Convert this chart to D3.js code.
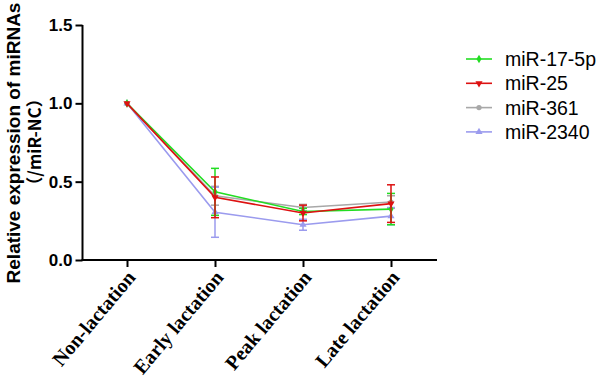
<!DOCTYPE html>
<html><head><meta charset="utf-8">
<script src="https://cdn.jsdelivr.net/npm/d3@7"></script>
<style>body{margin:0;background:#fff}svg{display:block}</style>
</head><body>
<svg id="c" width="596" height="385"></svg>
<script>
const categories = ["Non-lactation","Early lactation","Peak lactation","Late lactation"];
const seriesNames = ["miR-17-5p","miR-25","miR-361","miR-2340"];
const seriesColors = ["#22dd22","#dd1111","#a8a8a8","#9b9bee"];
const seriesSymbols = ["diamond","triangleDown","circle","triangle"];
const mir175p = [1.0, 0.435, 0.31, 0.325];
const mir175pErr = [0.005, 0.15, 0.02, 0.10];
const mir25 = [1.0, 0.40, 0.30, 0.36];
const mir25Err = [0.005, 0.13, 0.05, 0.12];
const mir361 = [1.0, 0.41, 0.335, 0.37];
const mir361Err = [0.005, 0.06, 0.02, 0.04];
const mir2340 = [1.0, 0.305, 0.225, 0.28];
const mir2340Err = [0.005, 0.16, 0.035, 0.055];
const yTicks = [0.0, 0.5, 1.0, 1.5];

const values = [mir175p, mir25, mir361, mir2340];
const errs = [mir175pErr, mir25Err, mir361Err, mir2340Err];

const svg = d3.select("#c");
const x = d3.scalePoint().domain(categories).range([127, 391]);
const y = d3.scaleLinear().domain([0, 1.5]).range([260, 25]);
const symMap = {diamond: d3.symbolDiamond, triangleDown: d3.symbolTriangle, circle: d3.symbolCircle, triangle: d3.symbolTriangle};

// error bars & lines
const drawOrder = [2, 3, 0, 1];
drawOrder.forEach(si => {
  const col = seriesColors[si];
  const g = svg.append("g");
  categories.forEach((c, i) => {
    const v = values[si][i], e = errs[si][i];
    if (e > 0.01) {
      g.append("line").attr("x1", x(c)).attr("x2", x(c))
        .attr("y1", y(v + e)).attr("y2", y(v - e))
        .attr("stroke", col).attr("stroke-width", 1.5);
      [v + e, v - e].forEach(w => g.append("line")
        .attr("x1", x(c) - 4).attr("x2", x(c) + 4)
        .attr("y1", y(w)).attr("y2", y(w))
        .attr("stroke", col).attr("stroke-width", 1.5));
    }
  });
  const line = d3.line().x((d, i) => x(categories[i])).y(d => y(d));
  g.append("path").datum(values[si]).attr("d", line)
    .attr("fill", "none").attr("stroke", col).attr("stroke-width", 1.6);
  values[si].forEach((v, i) => {
    g.append("path").attr("d", d3.symbol().type(symMap[seriesSymbols[si]]).size(22)())
      .attr("transform", `translate(${x(categories[i])},${y(v)})` + (seriesSymbols[si] === "triangleDown" ? " rotate(180)" : ""))
      .attr("fill", col);
  });
});

// axes
const yAxis = d3.axisLeft(y).tickValues(yTicks).tickFormat(d3.format(".1f")).tickSize(7).tickPadding(3);
const gy = svg.append("g").attr("transform", "translate(82.5,0)").call(yAxis);
gy.select(".domain").attr("stroke", "#000").attr("stroke-width", 2).attr("d", "M0,25V260");
gy.selectAll(".tick line").attr("stroke", "#000").attr("stroke-width", 2);
gy.selectAll("text").attr("font-family", "Liberation Sans, Arial, sans-serif")
  .attr("font-weight", "bold").attr("font-size", 17).attr("fill", "#000");

const xAxis = d3.axisBottom(x).tickSize(7).tickPadding(4);
const gx = svg.append("g").attr("transform", "translate(0,260)").call(xAxis);
gx.select(".domain").attr("stroke", "#000").attr("stroke-width", 2).attr("d", "M81.5,0H437");
gx.selectAll(".tick line").attr("stroke", "#000").attr("stroke-width", 2);
gx.selectAll("text").attr("font-family", "Liberation Serif, Times New Roman, serif")
  .attr("font-weight", "bold").attr("font-size", 20).attr("fill", "#000")
  .attr("text-anchor", "end").attr("x", 0).attr("y", 0).attr("dy", 0)
  .attr("transform", "translate(9,18) rotate(-50)");

// y label
svg.append("text").attr("transform", "translate(20,143) rotate(-90)")
  .attr("text-anchor", "middle").attr("font-family", "Liberation Sans, Arial, sans-serif")
  .attr("font-weight", "bold").attr("font-size", 19).text("Relative expression of miRNAs");
svg.append("text").attr("transform", "translate(41,142) rotate(-90)")
  .attr("text-anchor", "middle").attr("font-family", "Noto Sans CJK SC, Liberation Sans, sans-serif")
  .attr("font-weight", "bold").attr("font-size", 17).text("（/miR-NC）");

// legend
const lg = svg.append("g");
seriesNames.forEach((n, i) => {
  const yy = 59 + i * 24.3;
  lg.append("line").attr("x1", 466).attr("x2", 492).attr("y1", yy).attr("y2", yy)
    .attr("stroke", seriesColors[i]).attr("stroke-width", 1.6);
  lg.append("path").attr("d", d3.symbol().type(symMap[seriesSymbols[i]]).size(22)())
    .attr("transform", `translate(479,${yy})` + (seriesSymbols[i] === "triangleDown" ? " rotate(180)" : ""))
    .attr("fill", seriesColors[i]);
  lg.append("text").attr("x", 505).attr("y", yy).attr("dy", "0.36em")
    .attr("font-family", "Liberation Sans, Arial, sans-serif").attr("font-size", 19.5)
    .attr("fill", "#000").text(n);
});
</script>
</body></html>
